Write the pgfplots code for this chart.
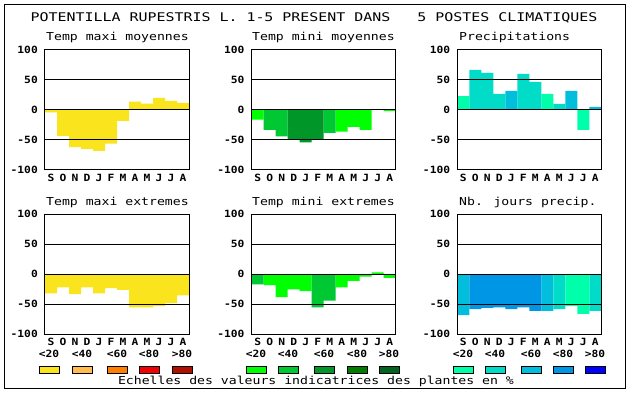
\documentclass[border=0pt]{standalone}
\usepackage{pgfplots}
\pgfplotsset{compat=1.18}
\usepackage{fontspec}
\setmainfont{DejaVu Sans Mono}
\newfontfamily\pixfont[FakeStretch=1.2]{DejaVu Sans Mono}
\newfontfamily\titlefont[FakeStretch=1.25]{DejaVu Sans Mono}
\newfontfamily\boldfont[FakeStretch=1.13]{DejaVu Sans Mono}
\newcommand{\tickf}{\boldfont\bfseries\fontsize{10}{12}\selectfont}
\newcommand{\subf}{\pixfont\fontsize{11}{13}\selectfont}

\definecolor{cY}{RGB}{250,228,30}
\definecolor{cO1}{RGB}{255,188,80}
\definecolor{cO2}{RGB}{255,128,0}
\definecolor{cR1}{RGB}{240,0,0}
\definecolor{cR2}{RGB}{176,16,0}
\definecolor{cG1}{RGB}{0,255,0}
\definecolor{cG2}{RGB}{0,200,50}
\definecolor{cG3}{RGB}{0,150,40}
\definecolor{cG4}{RGB}{0,125,0}
\definecolor{cG5}{RGB}{0,100,30}
\definecolor{cB1}{RGB}{0,255,170}
\definecolor{cB2}{RGB}{0,220,200}
\definecolor{cB3}{RGB}{0,190,220}
\definecolor{cB4}{RGB}{0,150,230}
\definecolor{cB5}{RGB}{0,0,255}

\pgfplotsset{
  panel/.style={
    scale only axis, width=144bp, height=120bp, anchor=north west,
    xmin=0, xmax=12, ymin=-100, ymax=100,
    xtick={0.5,1.5,...,11.5},
    xticklabels={S,O,N,D,J,F,M,A,M,J,J,A},
    ytick={-100,-50,0,50,100},
    yticklabels={-100,-50,0,50,100},
    ymajorgrids, grid style={black, line width=1bp},
    axis line style={line width=1bp},
    major tick length=0pt,
    axis on top,
    ticklabel style={font=\tickf},
    xticklabel style={inner sep=0pt, yshift=-4bp},
    yticklabel style={inner sep=0pt, xshift=-7bp},
  },
  bb/.style={ybar, bar width=1, bar shift=0pt, draw=none, fill=#1},
}

\begin{document}
\begin{tikzpicture}
\useasboundingbox (0,0) rectangle (630bp,394bp);
\fill[white] (0,0) rectangle (630bp,394bp);
\draw[line width=1bp] (4.5bp,5bp) rectangle (625.5bp,389.5bp);

\node at (314bp,376bp) {\titlefont\fontsize{12}{14}\selectfont POTENTILLA RUPESTRIS L. 1-5 PRESENT DANS\ \ \ 5 POSTES CLIMATIQUES};

% Row 1
\node[anchor=west, inner sep=0pt] at (46bp,357bp) {\subf Temp maxi moyennes};
\node[anchor=west, inner sep=0pt] at (252bp,357bp) {\subf Temp mini moyennes};
\node[anchor=west, inner sep=0pt] at (459bp,357bp) {\subf Precipitations};
\node[anchor=west, inner sep=0pt] at (46bp,192bp) {\subf Temp maxi extremes};
\node[anchor=west, inner sep=0pt] at (252bp,192bp) {\subf Temp mini extremes};
\node[anchor=west, inner sep=0pt] at (459bp,192bp) {\subf Nb. jours precip.};

\begin{axis}[panel, at={(45bp,344bp)}]
\addplot[bb=cY] coordinates {(0.5,-4) (1.5,-43) (2.5,-62) (3.5,-65) (4.5,-68) (5.5,-56) (6.5,-18) (7.5,14) (8.5,10.5) (9.5,20) (10.5,15) (11.5,12)};
\end{axis}

\begin{axis}[panel, at={(251.7bp,344bp)}]
\addplot[bb=cG1] coordinates {(0.5,-16) (7.5,-36) (8.5,-28) (9.5,-33) (11.5,-2)};
\addplot[bb=cG2] coordinates {(1.5,-33) (2.5,-44) (6.5,-38)};
\addplot[bb=cG3] coordinates {(3.5,-48) (4.5,-54) (5.5,-49)};
\end{axis}

\begin{axis}[panel, at={(457.3bp,344bp)}]
\addplot[bb=cB1] coordinates {(0.5,23) (7.5,27) (10.5,-33)};
\addplot[bb=cB2] coordinates {(1.5,67) (2.5,62) (3.5,27) (5.5,60) (6.5,47) (8.5,10)};
\addplot[bb=cB3] coordinates {(4.5,32) (9.5,32) (11.5,5)};
\end{axis}

% Row 2
\begin{axis}[panel, at={(45bp,179.7bp)}]
\addplot[bb=cY] coordinates {(0.5,-32) (1.5,-22) (2.5,-33) (3.5,-22) (4.5,-32) (5.5,-23) (6.5,-26) (7.5,-55) (8.5,-55) (9.5,-53) (10.5,-48) (11.5,-35)};
\end{axis}

\begin{axis}[panel, at={(251.7bp,179.7bp)}]
\addplot[bb=cG1] coordinates {(1.5,-18) (2.5,-38) (3.5,-25) (4.5,-28) (7.5,-22) (8.5,-11) (9.5,-4) (10.5,3) (11.5,-6)};
\addplot[bb=cG2] coordinates {(0.5,-17) (5.5,-55) (6.5,-44)};
\end{axis}

\begin{axis}[panel, at={(457.3bp,179.7bp)}]
\addplot[bb=cB3] coordinates {(0.5,-68) (7.5,-61)};
\addplot[bb=cB4] coordinates {(1.5,-58) (2.5,-56) (3.5,-55) (4.5,-58) (5.5,-55) (6.5,-61)};
\addplot[bb=cB2] coordinates {(8.5,-58) (11.5,-61)};
\addplot[bb=cB1] coordinates {(9.5,-53) (10.5,-66)};
\end{axis}

% Legend
\foreach \x/\c [count=\i] in {39/cY,72/cO1,107/cO2,139/cR1,172/cR2,246/cG1,278/cG2,314/cG3,347/cG4,379/cG5,453/cB1,485/cB2,521/cB3,553/cB4,585/cB5}{
  \filldraw[fill=\c, draw=black, line width=0.8bp] (\x bp,21bp) rectangle ++(20bp,7bp);
}
\foreach \x/\t in {39/{<20},72/{<40},107/{<60},139/{<80},172/{>80},246/{<20},278/{<40},314/{<60},347/{<80},379/{>80},453/{<20},485/{<40},521/{<60},553/{<80},585/{>80}}{
  \node at (\x bp+10bp,40bp) {\tickf\t};
}
\node at (316bp,12.5bp) {\subf Echelles des valeurs indicatrices des plantes en \%};
\end{tikzpicture}
\end{document}
